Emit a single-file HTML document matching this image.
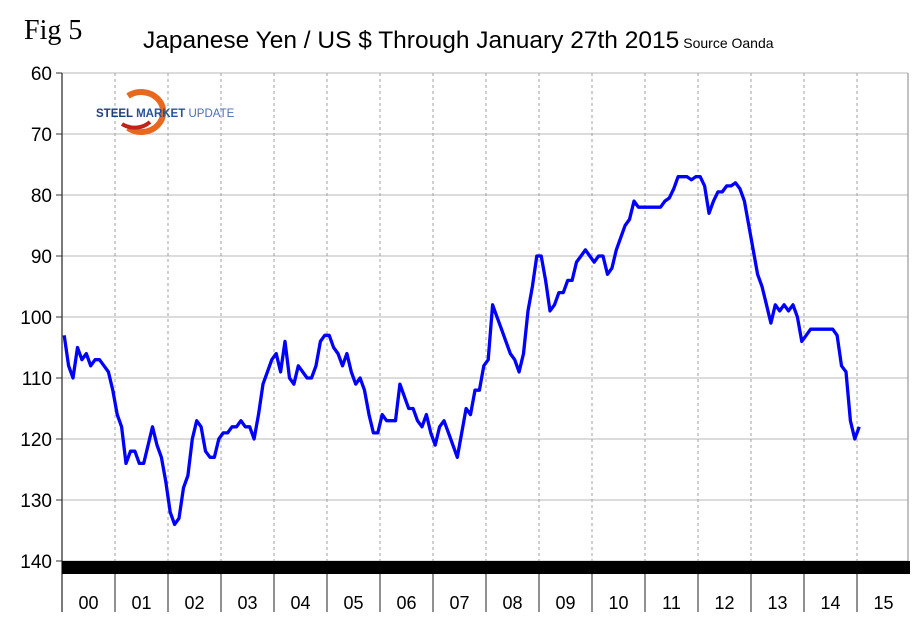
<!DOCTYPE html>
<html><head><meta charset="utf-8">
<style>
html,body{margin:0;padding:0;background:#fff;}
svg{display:block;font-family:"Liberation Sans",Arial,sans-serif;}
</style></head>
<body>
<svg id="chart" width="923" height="633" viewBox="0 0 923 633" xmlns="http://www.w3.org/2000/svg">
  <text x="24" y="39" font-family="'Liberation Serif',serif" font-size="28">Fig 5</text>
  <text x="143" y="48" font-size="24.5">Japanese Yen / US $ Through January 27th 2015<tspan font-size="14" dx="4">Source Oanda</tspan></text>
  <g id="grid"></g>
  <g>
    <path d="M128 96 A22 20 0 1 1 128 128" fill="none" stroke="#e8691e" stroke-width="6"/>
    <path d="M122 124 A22 20 0 0 0 150 122" fill="none" stroke="#c0231a" stroke-width="4"/>
    <text x="96" y="117" font-size="11.5" font-weight="bold" fill="#1f3f7a">STEEL <tspan fill="#2a5298">MARKET</tspan> <tspan font-weight="normal" fill="#4a6fb0">UPDATE</tspan></text>
  </g>
  <g id="axes"></g>
  <path id="series" fill="none" stroke="#0000ff" stroke-width="3.3" stroke-linejoin="round"/>
</svg>
<script>
const yTicks = [60,70,80,90,100,110,120,130,140];
const yearLabels = ["00","01","02","03","04","05","06","07","08","09","10","11","12","13","14","15"];
const y2000 = [103,108,110,105,107,106,108,107,107,108,109,112];
const y2001 = [116,118,124,122,122,124,124,121,118,121,123,127];
const y2002 = [132,134,133,128,126,120,117,118,122,123,123,120];
const y2003 = [119,119,118,118,117,118,118,120,116,111,109,107];
const y2004 = [106,109,104,110,111,108,109,110,110,108,104,103];
const y2005 = [103,105,106,108,106,109,111,110,112,116,119,119];
const y2006 = [116,117,117,117,111,113,115,115,117,118,116,119];
const y2007 = [121,118,117,119,121,123,119,115,116,112,112,108];
const y2008 = [107,98,100,102,104,106,107,109,106,99,95,90];
const y2009 = [90,94,99,98,96,96,94,94,91,90,89,90];
const y2010 = [91,90,90,93,92,89,87,85,84,81,82,82];
const y2011 = [82,82,82,82,81,80.5,79,77,77,77,77.5,77];
const y2012 = [77,78.5,83,81,79.5,79.5,78.5,78.5,78,79,81,85];
const y2013 = [89,93,95,98,101,98,99,98,99,98,100,104];
const y2014 = [103,102,102,102,102,102,102,103,108,109,117,120];
const y2015 = [118];
const values = [].concat(y2000,y2001,y2002,y2003,y2004,y2005,y2006,y2007,y2008,y2009,y2010,y2011,y2012,y2013,y2014,y2015);

const NS = "http://www.w3.org/2000/svg";
const L = 62, R = 908, T = 73, B = 561, yearW = 53;
const yMin = 60, yMax = 140;
function yScale(v){ return T + (v - yMin) / (yMax - yMin) * (B - T); }
function xScale(m){ return L + (m + 0.5) * yearW / 12; }
function mk(tag, attrs, parent){ const e = document.createElementNS(NS, tag); for (const k in attrs) e.setAttribute(k, attrs[k]); parent.appendChild(e); return e; }

const grid = document.getElementById('grid');
const axes = document.getElementById('axes');
yTicks.forEach(t => {
  const y = yScale(t);
  const g = mk('line', {x1:L, x2:R, y1:y, y2:y, stroke:'#c8c8c8', 'stroke-width':1.3}, grid);
  
  
  const tk = mk('line', {x1:L-6, x2:L, y1:y, y2:y, stroke:'#333', 'stroke-width':1}, axes);
  
  
  const lb = mk('text', {x:52, y:y+7, 'text-anchor':'end', 'font-size':19}, axes);
  lb.textContent = t;
  
  
});
for (let i = 1; i < yearLabels.length; i++) {
  const x = L + i * yearW;
  const v = mk('line', {x1:x, x2:x, y1:T, y2:B, stroke:'#a0a0a0', 'stroke-width':1, 'stroke-dasharray':'3,3'}, grid);
  
  
}
const rb = mk('line', {x1:R, x2:R, y1:T, y2:B, stroke:'#a0a0a0', 'stroke-width':1.3}, axes);


const ax = mk('line', {x1:L, x2:L, y1:T, y2:612, stroke:'#333', 'stroke-width':1.3}, axes);


const bar = mk('rect', {x:L, y:B, width:R-L+2, height:13, fill:'#000'}, axes);


yearLabels.forEach((lab, i) => {
  const x = L + i * yearW;
  if (i > 0) {
    const tk = mk('line', {x1:x, x2:x, y1:574, y2:612, stroke:'#555', 'stroke-width':1.3}, axes);
    
    
  }
  const t = mk('text', {x:x + yearW/2, y:609, 'text-anchor':'middle', 'font-size':18}, axes);
  t.textContent = lab;
  
  
});
const d = values.map((v, i) => (i ? 'L' : 'M') + xScale(i).toFixed(1) + ' ' + yScale(v).toFixed(1)).join(' ');
document.getElementById('series').setAttribute('d', d);
</script>
</body></html>
